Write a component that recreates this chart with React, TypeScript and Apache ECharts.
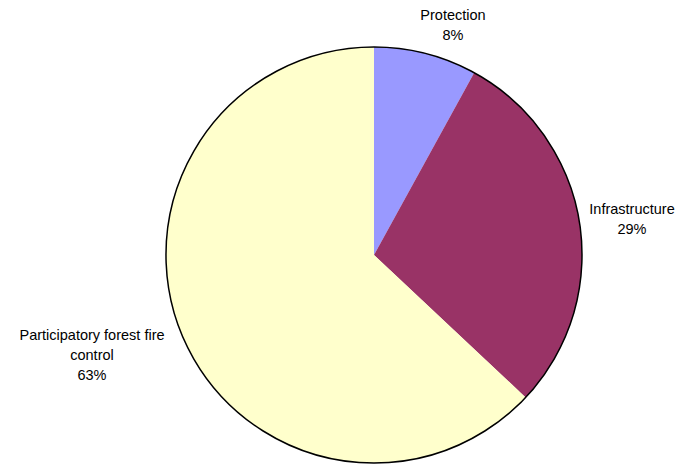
import React, { useEffect, useRef } from "react";
import * as echarts from "echarts";

const categories = ["Protection", "Infrastructure", "Participatory forest fire\ncontrol"];
const values = [8, 29, 63];
const colors = ["#9999FF", "#993366", "#FFFFCC"];

// label anchor positions (layout only)
const labelPos = [
  [453, 24.5],
  [632, 219],
  [92, 354.5],
];

export default function App() {
  const ref = useRef<HTMLDivElement>(null);
  useEffect(() => {
    const chart = echarts.init(ref.current!, null, { renderer: "svg" });
    const center = [374, 255];
    const radius = 208;
    chart.setOption({
      animation: false,
      backgroundColor: "#ffffff",
      series: [
        {
          type: "pie",
          center,
          radius,
          startAngle: 90,
          clockwise: true,
          percentPrecision: 0,
          avoidLabelOverlap: false,
          itemStyle: { borderWidth: 0 },
          label: {
            show: true,
            position: "outside",
            formatter: "{b}\n{d}%",
            color: "#000",
            fontFamily: "Liberation Sans, Arial, sans-serif",
            fontSize: 14.5,
            lineHeight: 20,
            align: "center",
            overflow: "none",
          },
          labelLine: { show: false },
          labelLayout: (p: any) => ({
            x: labelPos[p.dataIndex][0],
            y: labelPos[p.dataIndex][1],
            align: "center",
            verticalAlign: "middle",
          }),
          emphasis: { disabled: true },
          data: categories.map((c, i) => ({
            name: c,
            value: values[i],
            itemStyle: { color: colors[i] },
          })),
        },
        {
          type: "pie",
          center,
          radius,
          silent: true,
          label: { show: false },
          labelLine: { show: false },
          itemStyle: { color: "none", borderColor: "#000", borderWidth: 1.5 },
          emphasis: { disabled: true },
          data: [{ name: "outline", value: 1 }],
        },
      ],
    });
    return () => chart.dispose();
  }, []);
  return (
    <div
      ref={ref}
      style={{ position: "absolute", left: 0, top: 0, width: 677, height: 466 }}
    />
  );
}
